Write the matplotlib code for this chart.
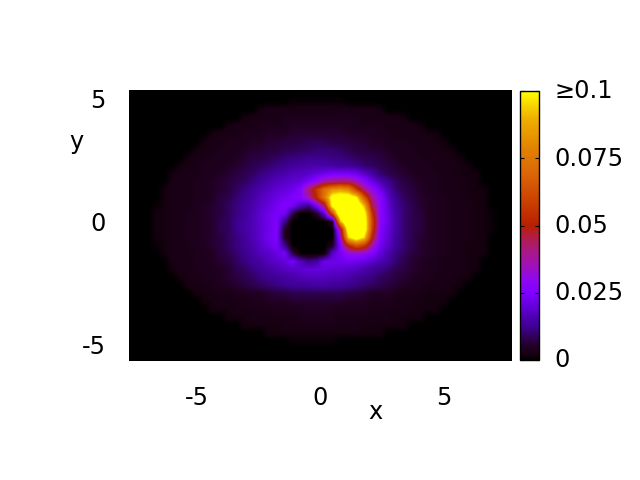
import numpy as np
import matplotlib
matplotlib.use("Agg")
import matplotlib.pyplot as plt
from matplotlib.colors import LinearSegmentedColormap
from matplotlib.transforms import ScaledTranslation

# density, in thousandths, top row first
density = [
    [0]*48,
    [0]*20 + [1,1,1,1,1,1,1] + [0]*21,
    [0]*16 + [2,3,3,3,3,3,3,3,3,3,3,3,3,3,3,2] + [0]*16,
    [0]*14 + [2,3,3,3,3,4,4,4,4,4,4,4,4,4,4,3,3,3,3,3,2] + [0]*13,
    [0]*12 + [2,3,3,3,4,4,4,4,5,5,5,5,5,5,5,4,4,4,4,4,3,3,3,3,2] + [0]*11,
    [0]*10 + [2,3,3,3,4,4,4,5,5,5,6,6,6,6,6,6,6,5,5,5,4,4,4,3,3,3,3,2,2] + [0]*9,
    [0]*9 + [2,3,3,4,4,4,5,5,6,6,7,7,7,8,8,8,7,7,7,6,6,5,5,4,4,4,3,3,3,2,2] + [0]*8,
    [0]*8 + [2,3,3,4,4,4,5,6,6,7,7,8,8,9,9,10,10,10,9,8,7,7,6,6,5,4,4,4,3,3,3,2,2] + [0]*7,
    [0]*7 + [2,3,3,4,4,4,5,6,7,7,8,9,10,11,11,12,12,12,11,11,10,9,8,8,7,6,5,4,4,4,3,3,3,2,2] + [0]*6,
    [0]*6 + [2,3,3,4,4,4,5,6,7,8,9,10,11,12,13,14,15,15,15,14,13,13,12,10,9,8,7,6,5,4,4,4,3,3,3,2,2] + [0]*5,
    [0]*5 + [2,3,3,3,4,4,5,6,7,8,9,11,12,14,15,17,17,18,20,22,24,24,24,22,18,14,10,8,7,6,5,4,4,4,3,3,2,2,2] + [0]*4,
    [0]*5 + [3,3,3,4,4,5,6,7,8,9,11,13,15,17,18,19,20,24,30,38,40,42,42,36,28,21,16,12,9,7,6,5,4,4,3,3,3,2,2] + [0]*4,
    [0]*4 + [2,3,3,3,4,4,5,6,7,9,11,13,15,17,19,20,22,26,42,56,72,82,85,80,58,40,30,22,15,10,8,7,5,4,4,3,3,3,2,2,2] + [0]*3,
    [0]*4 + [2,3,3,3,4,4,5,7,8,10,12,14,17,19,21,23,25,27,36,52,75,105,110,110,100,65,38,28,18,12,9,7,6,5,4,4,3,3,2,2,2] + [0]*3,
    [0]*3 + [1,2,3,3,3,4,5,6,7,9,11,13,15,18,20,23,26,24,17,12,25,44,105,120,120,115,90,45,28,19,13,10,8,6,5,4,4,3,3,3,2,2] + [0]*3,
    [0]*3 + [2,2,3,3,4,4,5,6,7,9,11,13,16,19,22,24,24,8,0,0,4,20,62,120,125,120,105,55,28,20,14,10,8,7,5,4,4,3,3,3,2,2,1] + [0]*2,
    [0]*3 + [2,2,3,3,4,4,5,6,8,9,12,14,16,19,22,25,13,0,0,0,0,0,5,90,125,125,110,60,28,21,14,10,8,7,5,4,4,3,3,3,2,2,1] + [0]*2,
    [0]*3 + [2,2,3,3,4,4,5,6,8,9,12,14,16,19,22,25,5,0,0,0,0,0,0,42,110,120,110,58,26,20,14,10,8,7,5,4,4,3,3,3,2,2,1] + [0]*2,
    [0]*3 + [2,2,3,3,4,4,5,6,7,9,11,13,16,19,23,25,5,0,0,0,0,0,0,32,95,110,95,50,25,19,13,10,8,6,5,4,4,3,3,3,2,2] + [0]*3,
    [0]*3 + [1,2,3,3,4,4,5,6,7,9,11,13,15,18,21,24,13,0,0,0,0,0,4,26,52,65,58,36,23,18,13,10,8,6,5,4,4,3,3,2,2,2] + [0]*3,
    [0]*4 + [2,3,3,3,4,4,5,7,8,10,12,14,17,18,21,24,8,0,0,0,1,18,24,30,32,30,26,20,15,11,9,7,6,5,4,4,3,3,2,2,2] + [0]*3,
    [0]*5 + [3,3,3,4,4,5,6,7,9,11,13,14,17,18,20,24,17,12,14,22,22,22,23,22,21,18,16,13,10,8,6,5,4,4,3,3,3,2,2] + [0]*4,
    [0]*5 + [2,3,3,4,4,4,5,6,8,9,11,13,14,16,17,18,19,20,20,20,19,19,18,17,15,13,12,10,8,7,6,5,4,4,3,3,3,2,2] + [0]*4,
    [0]*6 + [2,3,3,4,4,5,6,7,8,9,11,12,13,14,15,16,17,17,17,16,16,15,13,12,11,9,8,7,6,5,4,4,3,3,3,2,2] + [0]*5,
    [0]*7 + [3,3,3,4,4,5,6,7,8,9,10,11,12,13,13,13,14,14,13,13,12,11,10,9,8,7,6,5,4,4,3,3,3,2,2] + [0]*6,
    [0]*8 + [2,2,3,3,3,4,4,5,5,6,7,7,8,8,8,8,8,8,8,7,7,6,5,5,5,4,3,3,3,2,2,2,2] + [0]*7,
    [0]*9 + [2,2,3,3,3,3,4,4,5,5,5,6,6,6,6,6,6,6,5,5,5,4,4,4,3,3,3,2,2,2,2] + [0]*8,
    [0]*10 + [2,2,2,3,3,3,3,3,4,4,4,4,5,5,5,4,4,4,4,4,3,3,3,3,3,2,2,2,2] + [0]*9,
    [0]*12 + [2,2,2,3,3,3,3,3,3,4,4,4,4,4,3,3,3,3,3,3,3,2,2,2,2] + [0]*11,
    [0]*14 + [2,2,2,2,2,3,3,3,3,3,3,3,3,3,3,2,2,2,2,2,2] + [0]*13,
    [0]*17 + [2,2,2,2,2,2,2,2,2,2,2,2,2,2,2] + [0]*16,
    [0]*20 + [1,1,1,1,1,1] + [0]*22,
    [0]*48,
    [0]*48,
]
x_ticks = [-5, 0, 5]
y_ticks = [-5, 0, 5]
bar_ticks = [0, 0.025, 0.05, 0.075, 0.1]
bar_labels = ["0", "0.025", "0.05", "0.075", "≥0.1"]
palette = [
    (0.0, "#000000"), (0.02, "#160010"), (0.05, "#220024"), (0.08, "#2e0050"),
    (0.12, "#3e0090"), (0.15, "#4a00aa"), (0.2, "#6400dc"), (0.25, "#8000ff"),
    (0.3, "#9008f0"), (0.35, "#a010b8"), (0.4, "#a81888"), (0.45, "#b01c50"),
    (0.5, "#b82000"), (0.6, "#cc4400"), (0.7, "#dc6808"), (0.78, "#e08000"),
    (0.9, "#f0b000"), (1.0, "#ffff00"),
]

W, H = 640, 480
FS = 17.3
plt.rcParams["axes.unicode_minus"] = False


def px_axes(fig, left, top, right, bottom):
    return fig.add_axes([left / W, 1 - bottom / H, (right - left) / W, (bottom - top) / H])


def raise_labels(labels, fig, points):
    for label in labels:
        label.set_transform(label.get_transform() + ScaledTranslation(0, points / 72, fig.dpi_scale_trans))


fig = plt.figure(figsize=(6.4, 4.8), dpi=100)
ax = px_axes(fig, 129, 90, 512, 361)
cmap = LinearSegmentedColormap.from_list("disk", palette, N=512)
im = ax.imshow(np.array(density) / 1000, cmap=cmap, vmin=0, vmax=0.1, aspect="auto",
               extent=[-7.75, 7.75, -5.5, 5.5], interpolation="bilinear")
ax.set_xticks(x_ticks)
ax.set_yticks(y_ticks)
ax.tick_params(length=0, labelsize=FS)
ax.tick_params(axis="x", pad=18)
ax.tick_params(axis="y", pad=17)
raise_labels(ax.get_yticklabels(), fig, 3)
for side in ax.spines.values():
    side.set_visible(False)

cax = px_axes(fig, 520, 91, 539, 360)
bar = fig.colorbar(im, cax=cax, ticks=bar_ticks)
bar.ax.set_yticklabels(bar_labels)
bar.ax.tick_params(direction="in", length=3, width=0.8, left=True, right=True, labelsize=FS, pad=11)
bar.outline.set_linewidth(1)
raise_labels(bar.ax.get_yticklabels(), fig, 1.5)

fig.text(375 / W, 1 - 412 / H, "x", fontsize=FS, ha="center", va="center")
fig.text(76 / W, 1 - 142 / H, "y", fontsize=FS, ha="center", va="center")

fig.savefig("out.png", dpi=100)
